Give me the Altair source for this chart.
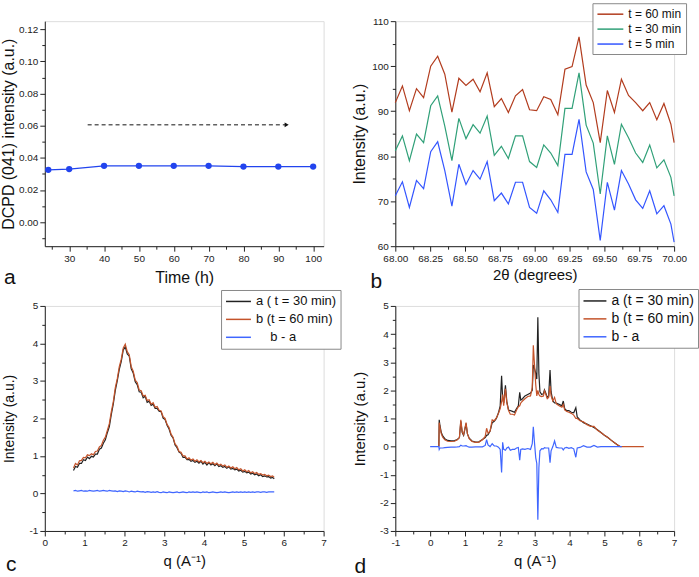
import altair as alt
import pandas as pd

FONT = "Liberation Sans"
INK = "#222222"

# ---------------- panel a ----------------
time_h = [24, 30, 40, 50, 60, 70, 80, 90, 100]
dcpd_041 = [0.0325, 0.0330, 0.0350, 0.0350, 0.0350, 0.0350, 0.0345, 0.0345, 0.0345]
arrow_from, arrow_to, arrow_level = 35.3, 92.4, 0.0605
a_color = "#2244EE"

# ---------------- panel b ----------------
two_theta = [68.000, 68.051, 68.101, 68.152, 68.203, 68.254, 68.304, 68.355, 68.406, 68.456,
             68.507, 68.558, 68.608, 68.659, 68.710, 68.761, 68.811, 68.862, 68.913, 68.963,
             69.014, 69.065, 69.115, 69.166, 69.217, 69.268, 69.318, 69.369, 69.420, 69.470,
             69.521, 69.572, 69.622, 69.673, 69.724, 69.775, 69.825, 69.876, 69.927, 69.977, 70.000]
int_60 = [91.9, 95.6, 90.1, 95.0, 93.0, 100.0, 102.2, 98.2, 89.8, 97.3, 95.7, 97.1, 94.3, 98.5,
          91.0, 92.8, 89.7, 93.4, 94.8, 90.3, 90.1, 93.2, 92.6, 89.2, 99.3, 99.9, 106.5, 95.8,
          91.9, 83.0, 94.6, 89.7, 97.1, 93.5, 91.9, 90.1, 91.9, 88.1, 91.7, 87.1, 83.0]
int_30 = [81.2, 84.5, 79.0, 84.9, 83.0, 91.2, 93.4, 86.7, 79.0, 88.4, 83.9, 87.0, 85.1, 88.9,
          80.2, 82.2, 79.5, 84.5, 84.5, 78.8, 77.5, 82.5, 80.7, 77.9, 90.6, 90.6, 98.5, 86.9,
          82.9, 71.6, 84.5, 78.2, 87.1, 84.1, 80.7, 78.6, 82.5, 77.4, 79.2, 75.3, 71.2]
int_5 = [71.2, 74.3, 68.6, 74.6, 72.8, 81.0, 83.2, 76.8, 68.9, 78.2, 73.7, 76.8, 74.9, 78.8,
         70.1, 71.8, 69.4, 74.2, 74.2, 68.6, 67.3, 72.3, 70.3, 67.5, 80.4, 80.4, 88.2, 76.5,
         72.6, 61.3, 74.2, 68.0, 76.8, 73.8, 70.3, 68.4, 72.3, 67.2, 69.0, 64.9, 60.9]
b_series = ["t = 60 min", "t = 30 min", "t = 5 min"]
b_colors = ["#B23C1E", "#30A078", "#3355FF"]

# ---------------- panel c ----------------
q_c = [round(0.72 + 0.05 * k, 2) for k in range(101)] + [5.76]
c_b = [0.68, 0.80, 0.76, 0.87, 0.88, 0.96, 0.95, 1.03, 1.01, 1.06,
       1.03, 1.12, 1.13, 1.24, 1.28, 1.42, 1.50, 1.68, 1.86, 2.18,
       2.45, 2.82, 3.06, 3.38, 3.58, 3.88, 3.98, 3.78, 3.70, 3.38,
       3.26, 3.02, 2.96, 2.76, 2.74, 2.60, 2.62, 2.48, 2.50, 2.38,
       2.42, 2.30, 2.32, 2.22, 2.20, 2.05, 2.00, 1.84, 1.76, 1.58,
       1.50, 1.32, 1.26, 1.12, 1.10, 1.00, 1.00, 0.92, 0.95, 0.89,
       0.92, 0.86, 0.90, 0.84, 0.88, 0.82, 0.86, 0.80, 0.84, 0.79,
       0.83, 0.77, 0.81, 0.75, 0.78, 0.73, 0.76, 0.70, 0.73, 0.68,
       0.71, 0.66, 0.69, 0.63, 0.66, 0.60, 0.63, 0.58, 0.61, 0.55,
       0.58, 0.53, 0.56, 0.51, 0.53, 0.49, 0.51, 0.47, 0.49, 0.45,
       0.47, 0.43]
c_diff = [0.07, 0.08, 0.06, 0.07, 0.08, 0.06, 0.07, 0.06, 0.08, 0.07,
          0.06, 0.07, 0.08, 0.06, 0.07, 0.08, 0.07, 0.06, 0.08, 0.07,
          0.06, 0.07, 0.05, 0.07, 0.06, 0.05, 0.07, 0.06, 0.04, 0.06,
          0.05, 0.04, 0.06, 0.05, 0.04, 0.05, 0.03, 0.05, 0.04, 0.03,
          0.04, 0.03, 0.05, 0.03, 0.02, 0.04, 0.03, 0.02, 0.04, 0.03,
          0.02, 0.03, 0.04, 0.02, 0.03, 0.04, 0.03, 0.02, 0.04, 0.03,
          0.04, 0.03, 0.04, 0.03, 0.02, 0.04, 0.03, 0.04, 0.02, 0.03,
          0.04, 0.03, 0.02, 0.03, 0.04, 0.03, 0.04, 0.03, 0.02, 0.03,
          0.04, 0.03, 0.04, 0.03, 0.04, 0.03, 0.04, 0.03, 0.04, 0.03,
          0.04, 0.03, 0.04, 0.04, 0.03, 0.04, 0.04, 0.03, 0.04, 0.04,
          0.04, 0.04]
c_series = ["a ( t = 30 min)", "b (t = 60 min)", "\u200b" + "\u00a0" * 4 + "b - a"]
cd_colors = ["#222222", "#C4532A", "#3F66FF"]

# ---------------- panel d ----------------
q_d = [0.25, 0.26, 0.28, 0.32, 0.36, 0.42, 0.50, 0.60, 0.70, 0.78,
       0.84, 0.88, 0.92, 0.96, 1.03, 1.07, 1.12, 1.20, 1.30, 1.40,
       1.50, 1.58, 1.62, 1.66, 1.72, 1.78, 1.84, 1.90, 1.96, 2.01,
       2.05, 2.08, 2.11, 2.16, 2.20, 2.25, 2.30, 2.36, 2.42, 2.48,
       2.53, 2.57, 2.60, 2.65, 2.72, 2.80, 2.88, 2.93, 2.96, 2.99,
       3.03, 3.06, 3.09, 3.12, 3.15, 3.20, 3.25, 3.28, 3.32, 3.36,
       3.40, 3.44, 3.47, 3.52, 3.57, 3.62, 3.70, 3.78, 3.82, 3.86,
       3.92, 3.98, 4.05, 4.12, 4.18, 4.22, 4.30, 4.40, 4.50, 4.60,
       4.70, 4.80, 4.90, 5.00, 5.10, 5.20, 5.30, 5.40, 5.45]
d_a = [0.00, 0.95, 0.75, 0.50, 0.38, 0.28, 0.22, 0.20, 0.21, 0.25,
       0.32, 0.90, 0.50, 0.40, 0.82, 0.45, 0.30, 0.20, 0.16, 0.17,
       0.25, 0.32, 0.40, 0.42, 0.55, 0.85, 0.90, 1.00, 1.20, 1.45,
       2.52, 1.70, 1.55, 2.18, 1.60, 1.30, 1.28, 1.25, 1.22, 1.35,
       1.45, 1.93, 1.65, 1.70, 1.80, 1.85, 1.90, 2.00, 2.90, 2.80,
       2.60, 2.40, 4.60, 2.60, 1.95, 1.85, 1.88, 2.02, 1.90, 1.75,
       1.80, 2.72, 1.95, 1.62, 1.55, 1.55, 1.50, 1.45, 1.62, 1.35,
       1.28, 1.28, 1.22, 1.20, 1.38, 1.05, 0.95, 0.85, 0.80, 0.74,
       0.68, 0.60, 0.50, 0.40, 0.32, 0.22, 0.13, 0.04, 0.00]
d_b = [0.00, 0.85, 0.70, 0.45, 0.33, 0.24, 0.19, 0.18, 0.19, 0.24,
       0.32, 0.95, 0.52, 0.42, 0.85, 0.45, 0.28, 0.18, 0.15, 0.16,
       0.24, 0.36, 0.65, 0.48, 0.55, 0.95, 0.92, 1.02, 1.18, 1.35,
       1.60, 1.85, 1.45, 2.05, 1.55, 1.28, 1.15, 1.15, 1.12, 1.30,
       1.42, 1.45, 1.55, 1.62, 1.70, 1.78, 1.80, 2.10, 3.60, 3.00,
       2.20, 1.80, 2.00, 1.85, 1.80, 1.78, 1.80, 1.98, 1.85, 1.70,
       1.75, 2.15, 1.80, 1.62, 1.75, 1.52, 1.45, 1.40, 1.50, 1.30,
       1.25, 1.22, 1.18, 1.12, 1.00, 1.00, 0.92, 0.88, 0.78, 0.72,
       0.72, 0.58, 0.50, 0.40, 0.32, 0.22, 0.13, 0.04, 0.00]
d_b_tail_q, d_b_tail_v = [6.13], [0.00]
d_diff_head_q, d_diff_tail_q = [0.00], [5.50]
d_series = ["a (t = 30 min)", "b (t = 60 min)", "b - a"]

W, H = 280, 226


def ax_major(orient, values, title, fmt, tsize, tpad):
    return alt.Axis(orient=orient, values=values, title=title, format=fmt, grid=False,
                    domainColor=INK, domainWidth=1, tickColor=INK, tickWidth=1, tickSize=5,
                    labelColor=INK, labelFont=FONT, labelFontSize=10, labelPadding=2,
                    labelFlush=False, labelOverlap=False,
                    labelExpr="replace(datum.label, '\u2212', '-')",
                    titleColor="#111111", titleFont=FONT, titleFontSize=tsize,
                    titleFontWeight="normal", titlePadding=tpad)


def ax_minor(orient, values):
    return alt.Axis(orient=orient, values=values, labels=False, domain=False, grid=False,
                    title=None, tickSize=3, tickColor=INK, tickWidth=1)


def legend(lx, ly, fsize, line_len, row_pad):
    # a line symbol of length line_len inside a nominal box of fsize px
    half = fsize / 2.0
    path = "M-1,0H%.3f" % (-1 + line_len / half)
    return alt.Legend(orient="none", legendX=lx, legendY=ly, title=None, symbolType=path,
                      symbolSize=fsize * fsize, symbolStrokeWidth=1.5, labelFont=FONT,
                      labelFontSize=fsize, labelColor="#111111", strokeColor="#888888",
                      fillColor="white", padding=4, rowPadding=row_pad,
                      labelOffset=line_len - fsize + 4, labelLimit=300)


def letter(ch, dx, dy):
    return alt.Chart(pd.DataFrame({"lab": [ch]})).mark_text(
        align="left", baseline="alphabetic", fontSize=21, font=FONT, color="#111111"
    ).encode(text="lab:N", x=alt.value(dx), y=alt.value(dy))


# ---------- panel a chart ----------
dfa = pd.DataFrame({"t": time_h, "v": dcpd_041})
xa = alt.Scale(domain=[23, 103], nice=False, zero=False)
ya = alt.Scale(domain=[-0.015, 0.125], nice=False, zero=False)
a_main = alt.Chart(dfa).mark_line(
    color=a_color, strokeWidth=1.2,
    point=alt.OverlayMarkDef(filled=True, size=40, color=a_color, opacity=1)
).encode(
    x=alt.X("t:Q", scale=xa, axis=ax_major("bottom", list(range(30, 101, 10)), "Time (h)", "d", 16, 6)),
    y=alt.Y("v:Q", scale=ya, axis=ax_major("left", [0.0, 0.02, 0.04, 0.06, 0.08, 0.10, 0.12],
                                          "DCPD (041) intensity (a.u.)", ".2f", 16, 2)),
)
a_minor = alt.Chart(dfa).mark_point(opacity=0).encode(
    x=alt.X("t:Q", scale=xa, axis=ax_minor("bottom", [25, 35, 45, 55, 65, 75, 85, 95])),
    y=alt.Y("v:Q", scale=ya, axis=ax_minor("left", [-0.01, 0.01, 0.03, 0.05, 0.07, 0.09, 0.11])),
)
dfarrow = pd.DataFrame({"x0": [arrow_from], "x1": [arrow_to], "y": [arrow_level]})
a_arrow = alt.Chart(dfarrow).mark_rule(strokeDash=[4, 3], color="#111111", strokeWidth=1).encode(
    x=alt.X("x0:Q", scale=xa, axis=None), x2="x1:Q", y=alt.Y("y:Q", scale=ya, axis=None))
a_head = alt.Chart(dfarrow).mark_point(shape="triangle-right", filled=True, size=22,
                                        color="#111111", opacity=1).encode(
    x=alt.X("x1:Q", scale=xa, axis=None), y=alt.Y("y:Q", scale=ya, axis=None))
panel_a = alt.layer(a_main, a_minor, a_arrow, a_head, letter("a", -41, 264)).resolve_axis(
    x="independent", y="independent").properties(width=W, height=H)

# ---------- panel b chart ----------
rows = []
for name, vals in zip(b_series, [int_60, int_30, int_5]):
    for x, v in zip(two_theta, vals):
        rows.append({"x": x, "v": v, "s": name})
dfb = pd.DataFrame(rows)
xb = alt.Scale(domain=[68, 70], nice=False, zero=False)
yb = alt.Scale(domain=[60, 110], nice=False, zero=False)
b_main = alt.Chart(dfb).mark_line(strokeWidth=1.2).encode(
    x=alt.X("x:Q", scale=xb, axis=ax_major("bottom", [68.0, 68.25, 68.5, 68.75, 69.0, 69.25, 69.5, 69.75, 70.0],
                                          "2\u03b8 (degrees)", ".2f", 15, 4)),
    y=alt.Y("v:Q", scale=yb, axis=ax_major("left", [60, 70, 80, 90, 100, 110], "Intensity (a.u.)", "d", 16, 4)),
    color=alt.Color("s:N", scale=alt.Scale(domain=b_series, range=b_colors),
                    legend=legend(198, -18, 12, 26, 2)),
)
b_minor = alt.Chart(dfb).mark_point(opacity=0).encode(
    x=alt.X("x:Q", scale=xb, axis=ax_minor("bottom", [68.125, 68.375, 68.625, 68.875, 69.125, 69.375, 69.625, 69.875])),
    y=alt.Y("v:Q", scale=yb, axis=ax_minor("left", [65, 75, 85, 95, 105])),
)
panel_b = alt.layer(b_main, b_minor, letter("b", -25, 268)).resolve_axis(
    x="independent", y="independent").properties(width=W, height=H)

# ---------- panel c chart ----------
c_a = [round(b - d, 3) for b, d in zip(c_b, c_diff)]
rows = []
for name, vals in zip(c_series, [c_a, c_b, c_diff]):
    for x, v in zip(q_c, vals):
        rows.append({"x": x, "v": v, "s": name})
dfc = pd.DataFrame(rows)
xc = alt.Scale(domain=[0, 7], nice=False, zero=False)
yc = alt.Scale(domain=[-1, 5], nice=False, zero=False)
c_main = alt.Chart(dfc).mark_line(strokeWidth=1.2).encode(
    x=alt.X("x:Q", scale=xc, axis=ax_major("bottom", list(range(0, 8)), "q (A\u207b\u00b9)", "d", 15, 6)),
    y=alt.Y("v:Q", scale=yc, axis=ax_major("left", list(range(-1, 6)), "Intensity (a.u.)", "d", 14, 13)),
    color=alt.Color("s:N", sort=c_series, scale=alt.Scale(domain=c_series, range=cd_colors),
                    legend=legend(177, -16, 13, 25, 3)),
)
c_minor = alt.Chart(dfc).mark_point(opacity=0).encode(
    x=alt.X("x:Q", scale=xc, axis=ax_minor("bottom", [0.5, 1.5, 2.5, 3.5, 4.5, 5.5, 6.5])),
    y=alt.Y("v:Q", scale=yc, axis=ax_minor("left", [-0.5, 0.5, 1.5, 2.5, 3.5, 4.5])),
)
panel_c = alt.layer(c_main, c_minor, letter("c", -39, 266)).resolve_axis(
    x="independent", y="independent").properties(width=W, height=H)

# ---------- panel d chart ----------
rows = []
for x, v in zip(q_d, d_a):
    rows.append({"x": x, "v": v, "s": d_series[0]})
for x, v in zip(q_d + d_b_tail_q, d_b + d_b_tail_v):
    rows.append({"x": x, "v": v, "s": d_series[1]})
d_diff = [round(b - a, 3) for a, b in zip(d_a, d_b)]
for x, v in zip(d_diff_head_q + q_d + d_diff_tail_q, [0.0] + d_diff + [0.0]):
    rows.append({"x": x, "v": v, "s": d_series[2]})
dfd = pd.DataFrame(rows)
xd = alt.Scale(domain=[-1, 7], nice=False, zero=False)
yd = alt.Scale(domain=[-3, 5], nice=False, zero=False)
d_main = alt.Chart(dfd).mark_line(strokeWidth=1.2).encode(
    x=alt.X("x:Q", scale=xd, axis=ax_major("bottom", list(range(-1, 8)), "q (A\u207b\u00b9)", "d", 15, 6)),
    y=alt.Y("v:Q", scale=yd, axis=ax_major("left", list(range(-3, 6)), "Intensity (a.u.)", "d", 15, 12)),
    color=alt.Color("s:N", sort=d_series, scale=alt.Scale(domain=d_series, range=cd_colors),
                    legend=legend(184, -17, 14, 23, 3)),
)
d_minor = alt.Chart(dfd).mark_point(opacity=0).encode(
    x=alt.X("x:Q", scale=xd, axis=ax_minor("bottom", [-0.5, 0.5, 1.5, 2.5, 3.5, 4.5, 5.5, 6.5])),
    y=alt.Y("v:Q", scale=yd, axis=ax_minor("left", [-2.5, -1.5, -0.5, 0.5, 1.5, 2.5, 3.5, 4.5])),
)
panel_d = alt.layer(d_main, d_minor, letter("d", -41, 268)).resolve_axis(
    x="independent", y="independent").properties(width=W, height=H)

chart = alt.concat(
    panel_a, panel_b, panel_c, panel_d, columns=2,
    spacing={"row": 60, "column": 72}, bounds="flush"
).resolve_scale(
    color="independent"
).properties(
    padding={"left": 0, "top": 1, "right": 0, "bottom": 0}, background="white"
).configure_view(stroke=None).configure(font=FONT)

chart.save("out.html", embed_options={"renderer": "svg", "actions": False})
